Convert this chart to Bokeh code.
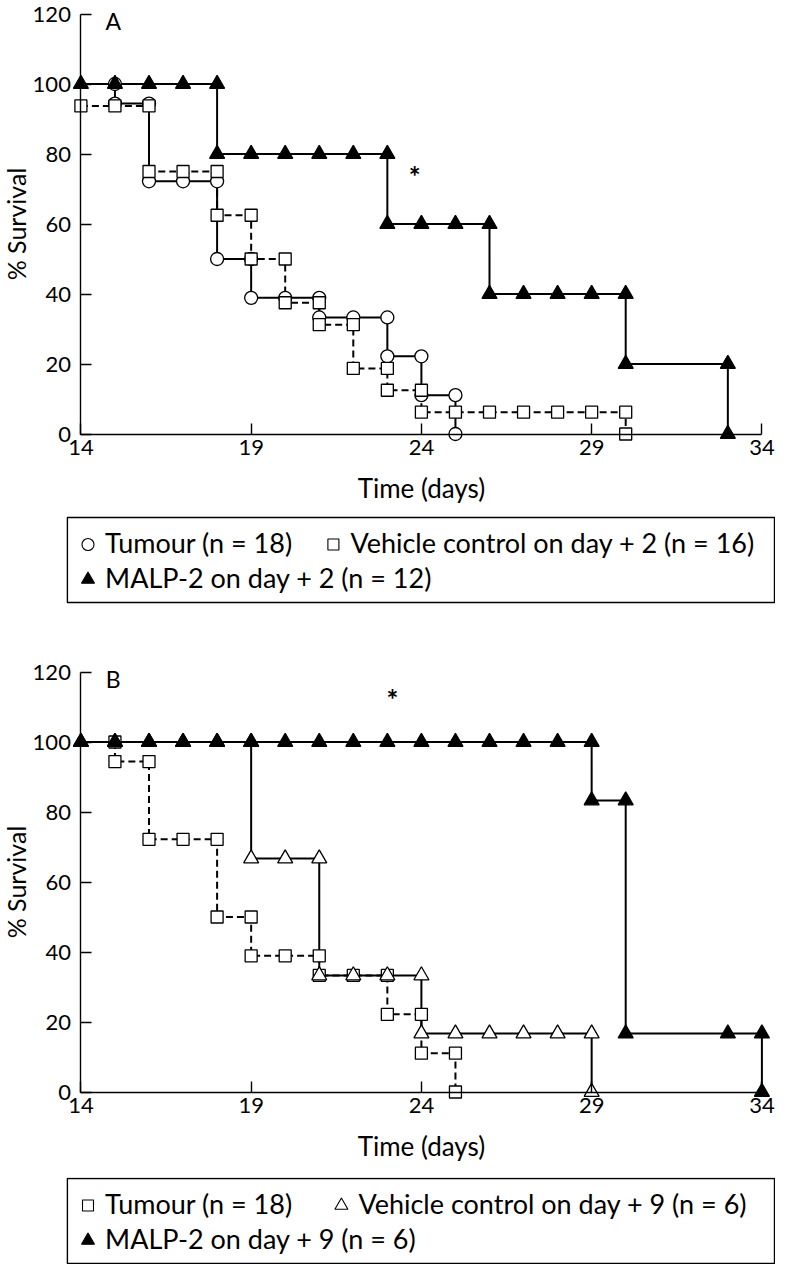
import math
from bokeh.plotting import figure
from bokeh.layouts import column
from bokeh.models import Range1d, FixedTicker, Label
from bokeh.embed import file_html
from bokeh.resources import INLINE
from bokeh.core.properties import value

FONT = "Lato"

# ---------------- Panel A data (day, % survival) ----------------
a_tumour_day = [15, 15, 16, 16, 17, 18, 18, 19, 19, 20, 21, 21, 22, 23, 23, 24, 24, 25, 25]
a_tumour_surv = [100, 94.4, 94.4, 72.2, 72.2, 72.2, 50, 50, 38.9, 38.9, 38.9, 33.3, 33.3, 33.3,
                 22.2, 22.2, 11.1, 11.1, 0]
a_vehicle_day = [14, 15, 16, 16, 17, 18, 18, 19, 19, 20, 20, 21, 21, 22, 22, 23, 23, 24, 24,
                 25, 26, 27, 28, 29, 30, 30]
a_vehicle_surv = [93.75, 93.75, 93.75, 75, 75, 75, 62.5, 62.5, 50, 50, 37.5, 37.5, 31.25, 31.25,
                  18.75, 18.75, 12.5, 12.5, 6.25, 6.25, 6.25, 6.25, 6.25, 6.25, 6.25, 0]
a_malp_day = [14, 15, 16, 17, 18, 18, 19, 20, 21, 22, 23, 23, 24, 25, 26, 26, 27, 28, 29, 30,
              30, 33, 33]
a_malp_surv = [100, 100, 100, 100, 100, 80, 80, 80, 80, 80, 80, 60, 60, 60, 60, 40, 40, 40, 40,
               40, 20, 20, 0]

# ---------------- Panel B data ----------------
b_tumour_day = [15, 15, 16, 16, 17, 18, 18, 19, 19, 20, 21, 21, 22, 23, 23, 24, 24, 25, 25]
b_tumour_surv = [100, 94.4, 94.4, 72.2, 72.2, 72.2, 50, 50, 38.9, 38.9, 38.9, 33.3, 33.3, 33.3,
                 22.2, 22.2, 11.1, 11.1, 0]
b_vehicle_day = [14, 15, 16, 17, 18, 19, 19, 20, 21, 21, 22, 23, 24, 24, 25, 26, 27, 28, 29, 29]
b_vehicle_surv = [100, 100, 100, 100, 100, 100, 66.7, 66.7, 66.7, 33.3, 33.3, 33.3, 33.3,
                  16.7, 16.7, 16.7, 16.7, 16.7, 16.7, 0]
b_malp_day = [14, 15, 16, 17, 18, 19, 20, 21, 22, 23, 24, 25, 26, 27, 28, 29, 29, 30, 30, 33,
              34, 34]
b_malp_surv = [100, 100, 100, 100, 100, 100, 100, 100, 100, 100, 100, 100, 100, 100, 100, 100,
               83.3, 83.3, 16.7, 16.7, 16.7, 0]

x_ticks = [14, 19, 24, 29, 34]
y_ticks = [0, 20, 40, 60, 80, 100, 120]

legend_a = ["Tumour (n = 18)", "Vehicle control on day + 2 (n = 16)", "MALP-2 on day + 2 (n = 12)"]
legend_b = ["Tumour (n = 18)", "Vehicle control on day + 9 (n = 6)", "MALP-2 on day + 9 (n = 6)"]

DASH = "7 4"

# ---------------- geometry (pixels) ----------------
W = 775          # figure width
X14 = 80.4       # px of day 14 from left edge
PX_DAY = 34.05   # px per day
Y120 = 13.5      # px of 120 % from top of a panel figure
PX_UNIT = 3.5    # px per % unit
BOX_L = 66.9     # legend box left (px)
BOX_R = 774.0    # legend box right (px)
BOX_H = 85       # legend box height (px)


def panel(letter, star, fig_h):
    xr = Range1d(14 - X14 / PX_DAY, 14 + (W - X14) / PX_DAY)
    yr = Range1d(120 - (fig_h - Y120) / PX_UNIT, 120 + Y120 / PX_UNIT)
    p = figure(frame_width=W, frame_height=fig_h, min_border_left=0, min_border_right=0,
               min_border_top=0, min_border_bottom=0,
               x_range=xr, y_range=yr,
               output_backend="svg", toolbar_location=None, tools="")
    p.xgrid.visible = False
    p.ygrid.visible = False
    p.outline_line_color = None
    for ax in (p.xaxis[0], p.yaxis[0]):
        ax.axis_line_width = 1.4
        ax.axis_line_color = "black"
        ax.major_tick_line_width = 1.4
        ax.major_tick_line_color = "black"
        ax.major_tick_in = 11
        ax.major_tick_out = 0
        ax.minor_tick_line_color = None
        ax.major_label_text_font = FONT
        ax.major_label_text_font_size = "22px"
        ax.major_label_text_color = "black"
    p.xaxis.fixed_location = 0
    p.yaxis.fixed_location = 14
    p.xaxis.bounds = (14, 34)
    p.yaxis.bounds = (0, 120)
    p.xaxis.ticker = FixedTicker(ticks=x_ticks)
    p.yaxis.ticker = FixedTicker(ticks=y_ticks)
    p.xaxis.major_label_standoff = 6
    p.yaxis.major_label_standoff = 10

    p.add_layout(Label(x=24, y=-15.4, text="Time (days)", text_align="center",
                       text_baseline="middle", text_font=FONT, text_font_size="26px",
                       text_color="black"))
    p.add_layout(Label(x=14 - (X14 - 15.5) / PX_DAY, y=60, text="% Survival",
                       angle=math.pi / 2, text_align="center", text_baseline="middle",
                       text_font=FONT, text_font_size="25px", text_color="black"))
    p.add_layout(Label(x=14.95, y=118.0, text=letter, text_align="center",
                       text_baseline="middle", text_font=FONT, text_font_size="23px",
                       text_color="black"))
    p.add_layout(Label(x=star[0], y=star[1], text="*", text_align="center",
                       text_baseline="middle", text_font=FONT, text_font_size="28px",
                       text_font_style="bold", text_color="black"))
    return p


def markers(p, xs, ys, kind, fill, size):
    p.scatter(xs, ys, marker=kind, size=size, fill_color=fill, line_color="black",
              line_width=1.3)


def lines(p, xs, ys, dash):
    p.line(xs, ys, line_color="black", line_width=2, line_dash=dash)


# Panel A
pa = panel("A", (23.8, 73.8), 515)
lines(pa, a_tumour_day, a_tumour_surv, "solid")
lines(pa, a_vehicle_day, a_vehicle_surv, DASH)
lines(pa, a_malp_day, a_malp_surv, "solid")
markers(pa, a_tumour_day, a_tumour_surv, "circle", "white", 13)
markers(pa, a_vehicle_day, a_vehicle_surv, "square", "white", 12)
markers(pa, a_malp_day, a_malp_surv, "triangle", "black", 15)

# Panel B
pb = panel("B", (23.15, 112.4), 519)
lines(pb, b_tumour_day, b_tumour_surv, DASH)
lines(pb, b_vehicle_day, b_vehicle_surv, "solid")
lines(pb, b_malp_day, b_malp_surv, "solid")
markers(pb, b_tumour_day, b_tumour_surv, "square", "white", 12)
markers(pb, b_vehicle_day, b_vehicle_surv, "triangle", "white", 15)
markers(pb, b_malp_day, b_malp_surv, "triangle", "black", 15)


def legend_fig(labels, kinds, fills, second_x, box_top, fig_h):
    lf = figure(frame_width=W, frame_height=fig_h, min_border_left=0, min_border_right=0,
                min_border_top=0, min_border_bottom=0,
                x_range=Range1d(0, W), y_range=Range1d(fig_h, 0),
                x_axis_type=None, y_axis_type=None,
                output_backend="svg", toolbar_location=None, tools="")
    lf.xgrid.visible = False
    lf.ygrid.visible = False
    lf.outline_line_color = None
    lf.quad(left=[BOX_L], right=[BOX_R], top=[box_top], bottom=[box_top + BOX_H],
            fill_color=None, line_color="black", line_width=1.4)
    mx = [BOX_L + 20.6, BOX_L + second_x, BOX_L + 20.6]
    tx = [BOX_L + 37.7, BOX_L + second_x + 17, BOX_L + 37.7]
    my = [box_top + 27, box_top + 27, box_top + 62]
    ty = [box_top + 24.5, box_top + 24.5, box_top + 59.5]
    sizes = {"circle": 12, "square": 11, "triangle": 13}
    for i in range(3):
        lf.scatter([mx[i]], [my[i]], marker=kinds[i], size=sizes[kinds[i]],
                   fill_color=fills[i], line_color="black", line_width=1.1)
    lf.text(tx, ty, text=labels, text_align="left", text_baseline="middle",
            text_font=value(FONT), text_font_size="27px", text_color="black")
    return lf


la = legend_fig(legend_a, ["circle", "square", "triangle"], ["white", "white", "black"],
                266, 2, 143)
lb = legend_fig(legend_b, ["square", "triangle", "triangle"], ["white", "white", "black"],
                274, 1, 87)

layout = column(pa, la, pb, lb, spacing=0)
open("out.html", "w").write(file_html(layout, INLINE))
